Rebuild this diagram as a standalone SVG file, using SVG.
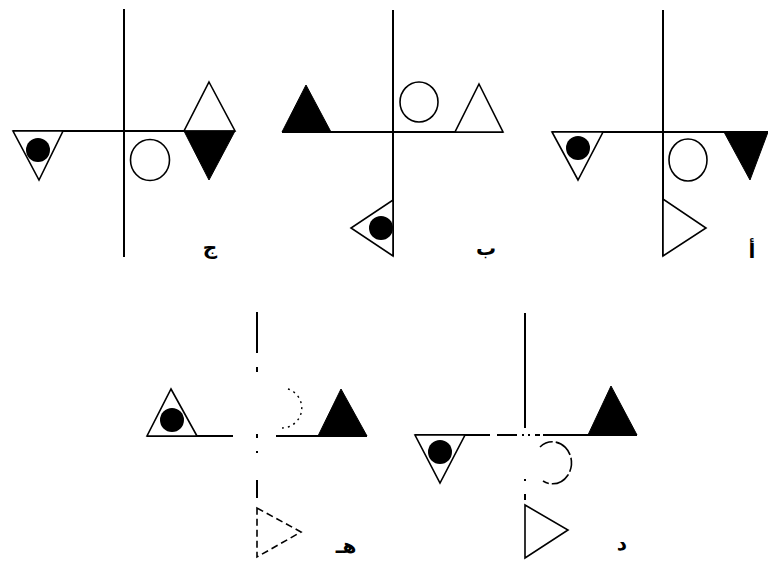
<svg xmlns="http://www.w3.org/2000/svg" width="768" height="561" viewBox="0 0 768 561">
<style>
.ax{stroke:#000;stroke-width:2;fill:none}
.sh{stroke:#000;stroke-width:1.6;fill:#fff;stroke-linejoin:miter}
.bk{fill:#000;stroke:#000;stroke-width:1}
.dot{fill:#000}
.lb{font-family:"DejaVu Sans",sans-serif;font-size:20px;font-weight:bold;fill:#000;text-anchor:middle}
</style>
<rect width="768" height="561" fill="#fff"/>

<g id="panel-jim">
<line class="ax" x1="124" y1="9" x2="124" y2="257"/>
<line class="ax" x1="13" y1="131" x2="235" y2="131"/>
<polygon class="sh" points="13,131 63,131 39,180"/>
<circle class="dot" cx="38" cy="150" r="12"/>
<ellipse class="sh" cx="150" cy="160" rx="19.5" ry="20.5"/>
<polygon class="sh" points="209,82 235,131 184,131"/>
<polygon class="bk" points="184,131 235,131 209,180"/>
<text class="lb" x="210" y="254">ج</text>
</g>

<g id="panel-ba">
<line class="ax" x1="393" y1="10" x2="393" y2="256"/>
<line class="ax" x1="282" y1="132" x2="503" y2="132"/>
<polygon class="bk" points="306,85 331,132 282,132"/>
<ellipse class="sh" cx="419" cy="102" rx="19" ry="20"/>
<polygon class="sh" points="479,84 503,132 455,132"/>
<polygon class="sh" points="393,200 393,256 351,228"/>
<circle class="dot" cx="381" cy="228" r="12"/>
<text class="lb" x="486" y="255">ب</text>
</g>

<g id="panel-alif">
<line class="ax" x1="663" y1="10" x2="663" y2="256"/>
<line class="ax" x1="552" y1="132" x2="768" y2="132"/>
<polygon class="sh" points="552,132 603,132 578,180"/>
<circle class="dot" cx="578" cy="148" r="12"/>
<ellipse class="sh" cx="688" cy="160" rx="19" ry="21"/>
<polygon class="bk" points="724,132 768,132 750,180"/>
<polygon class="sh" points="663,199 663,256 706,228"/>
<text class="lb" x="752" y="258">أ</text>
</g>

<g id="panel-ha">
<line class="ax" x1="257" y1="312" x2="257" y2="353"/>
<line class="ax" x1="257" y1="367" x2="257" y2="372"/>
<line class="ax" x1="257" y1="434" x2="257" y2="438"/>
<line class="ax" x1="257" y1="451" x2="257" y2="453"/>
<line class="ax" x1="257" y1="480" x2="257" y2="498"/>
<line class="ax" x1="147" y1="436" x2="233" y2="436"/>
<line class="ax" x1="276" y1="436" x2="367" y2="436"/>
<polygon class="sh" points="171,389 197,436 147,436"/>
<circle class="dot" cx="172" cy="420" r="12"/>
<path d="M288,389 A20,20 0 0 1 282,428" stroke="#000" stroke-width="1.4" fill="none" stroke-dasharray="2 4"/>
<polygon class="bk" points="341,389 367,436 318,436"/>
<polygon points="257,508 301,532 257,557" stroke="#000" stroke-width="1.6" fill="none" stroke-dasharray="7 4"/>
<text class="lb" x="346" y="553">هـ</text>
</g>

<g id="panel-dal">
<line class="ax" x1="525" y1="313" x2="525" y2="428"/>
<line class="ax" x1="525" y1="479" x2="525" y2="481"/>
<line class="ax" x1="525" y1="494" x2="525" y2="500"/>
<line class="ax" x1="415" y1="435" x2="490" y2="435"/>
<line class="ax" x1="497" y1="435" x2="517" y2="435"/>
<line class="ax" x1="522" y1="435" x2="524" y2="435"/>
<line class="ax" x1="528" y1="435" x2="530" y2="435"/>
<line class="ax" x1="535" y1="435" x2="540" y2="435"/>
<line class="ax" x1="543" y1="435" x2="637" y2="435"/>
<polygon class="sh" points="415,435 465,435 440,483"/>
<circle class="dot" cx="440" cy="452" r="12"/>
<path d="M540,447 A19,21 0 1 1 543,481" stroke="#000" stroke-width="1.6" fill="none" stroke-dasharray="14 3 20 3"/>
<polygon class="bk" points="611,386 637,435 588,435"/>
<polygon class="sh" points="525,505 568,530 525,558"/>
<text class="lb" x="622" y="550">د</text>
</g>
</svg>
